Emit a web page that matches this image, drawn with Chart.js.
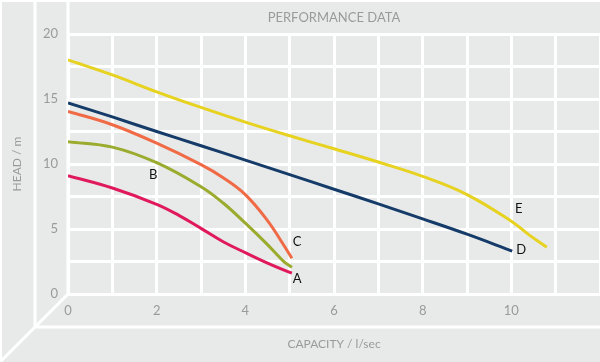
<!DOCTYPE html>
<html>
<head>
<meta charset="utf-8">
<script src="https://cdn.jsdelivr.net/npm/chart.js@4.4.1/dist/chart.umd.min.js"></script>
<style>
html, body { margin: 0; padding: 0; background: #e8eaea; }
#wrap { width: 600px; height: 362px; }
</style>
</head>
<body>
<div id="wrap"><canvas id="chartPerf"></canvas></div>
<script>
// curves (capacity l/sec, head m)
const curveNames = ['A', 'B', 'C', 'D', 'E'];
const curveColors = ['#e0195d', '#9aab2d', '#ef6a45', '#153b69', '#e6d21f'];

const capA = [0, 1, 2, 2.5, 3, 3.5, 4, 4.5, 5.05];
const headA = [9.1, 8.15, 6.9, 6.05, 5.05, 4.02, 3.18, 2.38, 1.6];

const capB = [0, 1, 2, 3, 3.5, 4, 4.5, 4.85, 5.05];
const headB = [11.72, 11.3, 10.1, 8.25, 7.0, 5.45, 3.8, 2.55, 2.05];

const capC = [0, 1, 2, 3, 3.5, 4, 4.5, 4.85, 5.05];
const headC = [14.05, 13.02, 11.6, 9.95, 8.95, 7.65, 5.65, 3.85, 2.75];

const capD = [0, 1, 2, 3, 4, 5, 6, 7, 8, 9, 10.02];
const headD = [14.7, 13.62, 12.5, 11.4, 10.3, 9.18, 8.06, 6.93, 5.78, 4.6, 3.3];

const capE = [0, 1, 2, 3, 4, 5, 6, 7, 8, 9, 10, 10.4, 10.8];
const headE = [18.0, 16.85, 15.55, 14.35, 13.22, 12.17, 11.17, 10.15, 9.05, 7.65, 5.6, 4.55, 3.6];

// where the curve letters sit, in chart units
const labelCap = [5.17, 1.92, 5.17, 10.22, 10.17];
const labelHead = [1.15, 9.15, 4.0, 3.38, 6.54];

const xTicksShown = [0, 2, 4, 6, 8, 10];
const yTicksShown = [0, 5, 10, 15, 20];

const caps = [capA, capB, capC, capD, capE];
const heads = [headA, headB, headC, headD, headE];

const bg = '#e8eaea';
const textGrey = '#9a9a9a';
const fontFamily = 'Lato, "Open Sans", sans-serif';

function points(xs, ys) {
    return xs.map((x, i) => ({ x: x, y: ys[i] }));
}

const datasets = curveNames.map((name, i) => ({
    label: name,
    data: points(caps[i], heads[i]),
    borderColor: curveColors[i],
    borderWidth: 3,
    pointRadius: 0,
    showLine: true,
    fill: false,
    tension: 0.4
}));

// background + the "floor" frame lines
const framePlugin = {
    id: 'frame',
    beforeDraw(chart) {
        const c = chart.ctx;
        c.save();
        c.fillStyle = bg;
        c.fillRect(0, 0, chart.width, chart.height);
        c.restore();
    },
    beforeDatasetsDraw(chart) {
        const c = chart.ctx;
        const a = chart.chartArea;
        const d = 33;
        c.save();
        c.strokeStyle = '#ffffff';
        c.lineWidth = 3;
        c.beginPath();
        // y axis wall
        c.moveTo(a.left, 0);
        c.lineTo(a.left, a.bottom);
        // back wall edge
        c.moveTo(a.left - d, 0);
        c.lineTo(a.left - d, a.bottom + d);
        // floor edge
        c.moveTo(a.left - d, a.bottom + d);
        c.lineTo(chart.width, a.bottom + d);
        // diagonal
        c.moveTo(a.left, a.bottom);
        c.lineTo(a.left - 2 * d - 2, a.bottom + 2 * d + 2);
        c.stroke();
        // thin outer border top / left
        c.lineWidth = 2;
        c.beginPath();
        c.moveTo(0, 1);
        c.lineTo(chart.width, 1);
        c.moveTo(1, 0);
        c.lineTo(1, chart.height);
        c.stroke();
        c.restore();
    },
    afterDatasetsDraw(chart) {
        const c = chart.ctx;
        const xs = chart.scales.x, ys = chart.scales.y;
        c.save();
        c.fillStyle = '#111111';
        c.font = '13px ' + fontFamily;
        c.textAlign = 'center';
        c.textBaseline = 'middle';
        curveNames.forEach((name, i) => {
            c.fillText(name, xs.getPixelForValue(labelCap[i]), ys.getPixelForValue(labelHead[i]));
        });
        c.restore();
    }
};

const ctx = document.getElementById('chartPerf').getContext('2d');

const myChart = new Chart(ctx, {
    type: 'scatter',
    data: { datasets: datasets },
    options: {
        responsive: true,
        maintainAspectRatio: false,
        animation: false,
        layout: { padding: 0 },
        plugins: {
            legend: { display: false },
            tooltip: { enabled: false },
            title: {
                display: true,
                text: 'PERFORMANCE DATA',
                color: textGrey,
                fullSize: false,
                font: { family: fontFamily, size: 13, weight: 'normal' },
                padding: { top: 10, bottom: 8.4 }
            }
        },
        scales: {
            x: {
                type: 'linear',
                min: 0,
                max: 12,
                afterFit(scale) {
                    scale.height = 68;
                    scale.paddingLeft = 0;
                    scale.paddingRight = 0;
                },
                grid: { color: '#ffffff', lineWidth: 3, drawTicks: false },
                border: { display: false },
                ticks: {
                    stepSize: 1,
                    autoSkip: false,
                    maxRotation: 0,
                    padding: 9,
                    color: textGrey,
                    font: { family: fontFamily, size: 13 },
                    callback: v => xTicksShown.includes(v) ? String(v) : ''
                },
                title: {
                    display: true,
                    text: 'CAPACITY / l/sec',
                    color: textGrey,
                    font: { family: fontFamily, size: 12 },
                    padding: { top: 0, bottom: 11 }
                }
            },
            y: {
                type: 'linear',
                min: 0,
                max: 20,
                afterFit(scale) {
                    scale.width = 68;
                    scale.paddingTop = 0;
                    scale.paddingBottom = 0;
                },
                grid: { color: '#ffffff', lineWidth: 3, drawTicks: false },
                border: { display: false },
                ticks: {
                    stepSize: 2.5,
                    autoSkip: false,
                    padding: 10,
                    color: textGrey,
                    font: { family: fontFamily, size: 13 },
                    callback: v => yTicksShown.includes(v) ? String(v) : ''
                },
                title: {
                    display: true,
                    text: 'HEAD / m',
                    color: textGrey,
                    font: { family: fontFamily, size: 12 },
                    padding: { top: 10, bottom: 0 }
                }
            }
        }
    },
    plugins: [framePlugin]
});
</script>
</body>
</html>
